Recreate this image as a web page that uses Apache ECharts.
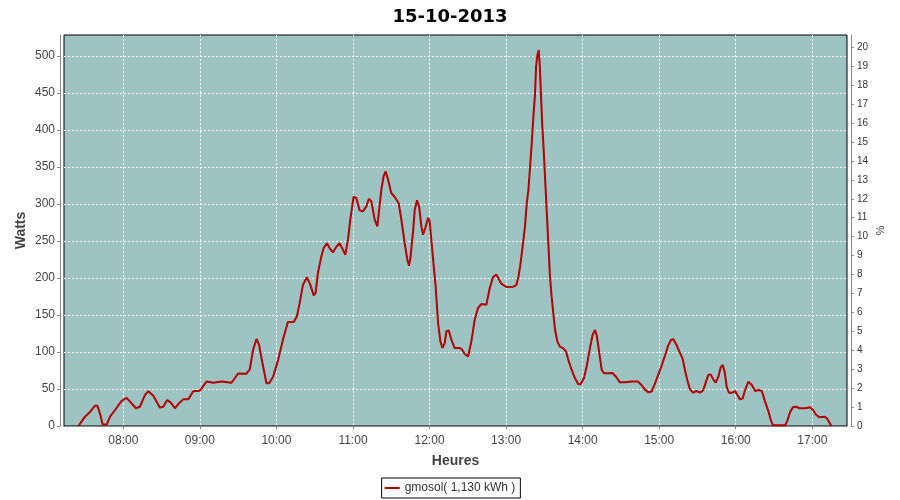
<!DOCTYPE html>
<html>
<head>
<meta charset="utf-8">
<script src="https://cdn.jsdelivr.net/npm/echarts@6/dist/echarts.min.js"></script>
<style>html,body{margin:0;padding:0;background:#fff}#c{width:900px;height:500px}</style>
</head>
<body>
<div id="c"></div>
<script>
// time of day in minutes since midnight
var times = [444.8,450,453.9,457.8,459.6,461.7,463.8,467,469.6,473.5,478.7,482.6,486.5,489.9,493,497,499.6,503.5,508.7,511.3,514.4,517.3,520.4,523.6,527,530.9,534.8,540,545.2,550.4,557,564.8,570,576.5,579.1,581.7,584.4,586.4,589.6,592.2,594.3,597.4,601.3,603.5,605.1,609,613.5,616,618.2,620.8,623.9,626.5,629.2,630.7,632.5,635.2,637,639.6,641.7,644.3,646.9,649.5,652.2,654,656.1,657.9,660.5,662.6,665.2,667.8,670.5,672.5,674.4,677,679.1,680.1,682.2,684,685.6,687.5,690,692.7,695.8,697.9,700.5,702.6,703.9,705,707.1,708.4,710.2,711.8,713.6,714.9,716.7,718.8,720.1,721.4,723.3,724.8,726.7,728.5,730.1,731.9,733.2,735,737.1,739.7,743.7,745.5,747.6,750.2,752.8,755.4,758,760.7,764.6,767.2,769.8,772.4,776.3,780.3,785.7,788,789.7,791,792.3,793.6,794.9,796.2,797.5,798.8,800.1,801.4,802.7,803.5,804.5,805.6,806.4,807.4,808.4,809.2,810.5,811.8,813.1,814.4,815.7,817,818.4,820.2,822.3,824.9,827,828.8,831.4,834,836.6,838.4,841,843.1,845.7,847.8,849.7,851,853.2,854.9,856.7,860.1,863.5,866.6,869.2,874,878.3,883.5,886.1,888.7,891.4,894,896.6,899.2,901.8,904.5,907.1,909.2,911,913.6,915.7,918.3,920.2,922,924.1,926.7,929.3,932,934.6,936.7,938.5,940.3,942.4,944.3,946.4,948.2,949.8,951.3,952.9,954.7,957.4,959.5,961.3,963.4,965.5,967.3,969.9,972.6,975.2,977.8,980.4,983,985.7,987.5,989.1,992.2,996.1,998.8,1000.6,1002.7,1004.8,1007.4,1010,1014.5,1018.4,1020.5,1023.1,1025.8,1029.4,1031.5,1034.9];
var watts = [0,12.6,19,27.5,27.5,17,2,2,12.6,21.6,34,38,30.6,24,26,42,47,41,24.8,26,35,31.5,24,30.6,36,36,47,47.7,60,58.5,60,58.5,71,70.7,76.6,102.7,117.6,109.5,80,57.7,57.7,66.7,89,105,116.7,140.5,140.5,148,166,191,201,191,176.6,179.7,206.8,229,240.5,247,240.5,234.7,242,247,238,231.5,251.8,278.8,310,308,291.4,290,296.8,307,303.6,278.8,269.8,269.8,319,337.4,344,333,315,309.5,301.4,278.8,247.3,224.8,216.7,227,263,292.3,305,296.8,269.8,258.6,267.6,281,276.6,251.8,215.8,188.7,139.2,114.4,105.4,112,128,129.3,116.7,105.4,105.4,103.2,97.3,94,114.4,143.7,159.5,164.9,164,186.5,201.4,204.5,192.3,187.8,188.3,190.5,201.8,215.3,233.3,251.4,271.6,301,319,350.5,382,418,449.5,485.6,501,508,487.8,445,404.5,382,337,292,246.8,201.8,174.8,152.3,129.7,114,107.2,105,100.5,89.2,75.7,64.4,56.3,56.3,64.4,80,105,123,129.7,123,97,76,71.2,71.2,71.5,65.5,59,59,60,60,55.4,49.5,45.5,46.5,56.8,69,81,95,109,116.2,117.5,109.5,101,91.4,75.7,62.2,49.5,45,47.3,45,48.6,60,69,69.8,63,58.6,66.7,79.3,82.4,73.4,53,45,45,47.3,41.9,36,37.4,48.6,60,55.4,47.3,48.6,47.3,32.9,19.4,8.1,1,1,1,1,8,19.4,25.2,26,24,24,25.2,21.6,14.9,11.7,12.6,10.4,0];
// tick positions
var hourTicks = [480, 540, 600, 660, 720, 780, 840, 900, 960, 1020];
var wattTicks = [0, 50, 100, 150, 200, 250, 300, 350, 400, 450, 500];
var pctTicks = [0, 1, 2, 3, 4, 5, 6, 7, 8, 9, 10, 11, 12, 13, 14, 15, 16, 17, 18, 19, 20];
var chartTitle = '15-10-2013';
var seriesName = 'gmosol( 1,130 kWh )';
var xName = 'Heures';
var yLeftName = 'Watts';
var yRightName = '%';

var pairs = times.map(function (t, i) { return [t, watts[i]]; });
function hhmm(v) {
  var h = Math.floor(v / 60), m = Math.round(v - h * 60);
  return (h < 10 ? '0' : '') + h + ':' + (m < 10 ? '0' : '') + m;
}
var FF = 'Liberation Sans';
var chart = echarts.init(document.getElementById('c'), null, {renderer: 'canvas'});
chart.setOption({
  animation: false,
  backgroundColor: '#ffffff',
  title: {
    text: chartTitle, left: 'center', top: 3,
    textStyle: {fontFamily: 'DejaVu Sans', fontWeight: 'bold', fontSize: 18, color: '#000'}
  },
  legend: {
    bottom: 2, left: 'center',
    borderColor: '#000', borderWidth: 1, padding: [4, 5, 4, 3],
    itemWidth: 15, itemHeight: 2, icon: 'rect', itemGap: 4,
    textStyle: {fontFamily: FF, fontSize: 12, color: '#333'},
    data: [seriesName]
  },
  grid: {
    left: 64, right: 53, top: 35, bottom: 74,
    show: true, backgroundColor: '#9ec3c3', borderColor: '#000', borderWidth: 1,
    containLabel: false
  },
  xAxis: {
    type: 'value', min: 433.5, max: 1047.2,
    name: xName, nameLocation: 'middle', nameGap: 24,
    nameTextStyle: {fontFamily: FF, fontWeight: 'bold', fontSize: 14, color: '#444'},
    offset: 4,
    axisLine: {show: true, lineStyle: {color: '#888', width: 1}},
    axisTick: {show: true, length: 3, lineStyle: {color: '#888'}, customValues: hourTicks},
    axisLabel: {fontFamily: FF, fontSize: 12, color: '#444', margin: 5,
      customValues: hourTicks, formatter: function (v) { return hhmm(v); }},
    splitLine: {show: true, lineStyle: {color: '#ffffff', type: [2, 2], width: 1}}
  },
  yAxis: [{
    type: 'value', min: 0, max: 528.4, position: 'left',
    name: yLeftName, nameLocation: 'middle', nameGap: 32, nameMoveOverlap: false,
    nameTextStyle: {fontFamily: FF, fontWeight: 'bold', fontSize: 14, color: '#444'},
    offset: 4,
    axisLine: {show: true, lineStyle: {color: '#888', width: 1}},
    axisTick: {show: true, length: 3, lineStyle: {color: '#888'}, customValues: wattTicks},
    axisLabel: {fontFamily: FF, fontSize: 12, color: '#444', margin: 5, customValues: wattTicks},
    splitLine: {show: true, lineStyle: {color: '#ffffff', type: [2, 2], width: 1}}
  }, {
    type: 'value', min: 0, max: 20.65, position: 'right',
    name: yRightName, nameLocation: 'middle', nameGap: 23, nameRotate: -90, nameMoveOverlap: false,
    nameTextStyle: {fontFamily: FF, fontSize: 11, color: '#333'},
    offset: 4,
    axisLine: {show: true, lineStyle: {color: '#888', width: 1}},
    axisTick: {show: true, length: 3, lineStyle: {color: '#888'}, customValues: pctTicks},
    axisLabel: {fontFamily: FF, fontSize: 10, color: '#333', margin: 6, customValues: pctTicks},
    splitLine: {show: false}
  }],
  series: [{
    name: seriesName, type: 'line', data: pairs, xAxisIndex: 0, yAxisIndex: 0,
    showSymbol: false, smooth: false,
    lineStyle: {color: '#b40000', width: 2}, itemStyle: {color: '#b40000'}
  }]
});
</script>
</body>
</html>
